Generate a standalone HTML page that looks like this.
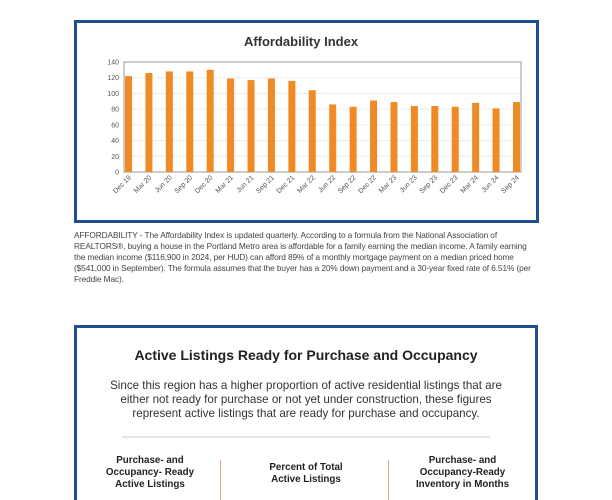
<!DOCTYPE html>
<html><head><meta charset="utf-8"><style>
html,body{margin:0;width:612px;height:500px;background:#fff;overflow:hidden;position:relative;font-family:"Liberation Sans",sans-serif;color:#333}
.box{position:absolute;border:3px solid #1f4f8f;box-sizing:border-box;background:#fff}
.cap{position:absolute;left:74px;top:230px;font-size:8.3px;line-height:10.9px;color:#444;white-space:nowrap;letter-spacing:-0.1px}
</style></head><body>
<div class="box" style="left:74px;top:20px;width:465px;height:203px"></div>
<svg id="chart" width="612" height="230" style="position:absolute;left:0;top:0">
<text x="301" y="46" text-anchor="middle" font-size="13" font-weight="bold" fill="#333">Affordability Index</text>
</svg>
<div class="cap">AFFORDABILITY - The Affordability Index is updated quarterly. According to a formula from the National Association of<br>REALTORS®, buying a house in the Portland Metro area is affordable for a family earning the median income. A family earning<br>the median income ($116,900 in 2024, per HUD) can afford 89% of a monthly mortgage payment on a median priced home<br>($541,000 in September). The formula assumes that the buyer has a 20% down payment and a 30-year fixed rate of 6.51% (per<br>Freddie Mac).</div>
<div class="box" style="left:74px;top:325px;width:464px;height:175px;border-bottom:none"></div>
<div style="position:absolute;left:74px;width:464px;top:347px;text-align:center;font-size:14px;font-weight:bold;color:#222">Active Listings Ready for Purchase and Occupancy</div>
<div style="position:absolute;left:90px;width:432px;top:379px;text-align:center;font-size:11.6px;line-height:14px;color:#333">Since this region has a higher proportion of active residential listings that are<br>either not ready for purchase or not yet under construction, these figures<br>represent active listings that are ready for purchase and occupancy.</div>
<div style="position:absolute;left:122px;width:368px;top:436px;height:2px;background:#e4e4e4"></div>
<div style="position:absolute;left:90px;width:120px;top:455px;text-align:center;font-size:9.8px;line-height:12px;color:#222;font-weight:bold">Purchase- and<br>Occupancy- Ready<br>Active Listings</div>
<div style="position:absolute;left:220px;top:460px;width:1px;height:40px;background:#e8a890"></div>
<div style="position:absolute;left:245px;width:122px;top:462px;text-align:center;font-size:9.8px;line-height:12px;color:#222;font-weight:bold">Percent of Total<br>Active Listings</div>
<div style="position:absolute;left:388px;top:460px;width:1px;height:40px;background:#e8a890"></div>
<div style="position:absolute;left:395px;width:135px;top:455px;text-align:center;font-size:9.8px;line-height:12px;color:#222;font-weight:bold">Purchase- and<br>Occupancy-Ready<br>Inventory in Months</div>
<script>
const categories=["Dec 19","Mar 20","Jun 20","Sep 20","Dec 20","Mar 21","Jun 21","Sep 21","Dec 21","Mar 22","Jun 22","Sep 22","Dec 22","Mar 23","Jun 23","Sep 23","Dec 23","Mar 24","Jun 24","Sep 24"];
const values=[122,126,128,128,130,119,117,119,116,104,86,83,91,89,84,84,83,88,81,89];
const yTicks=[0,20,40,60,80,100,120,140];
const svg=document.getElementById('chart');
const NS='http://www.w3.org/2000/svg';
const L=124,R=521,T=62,B=172,yMax=140,bw=7;
const y=v=>B-(v/yMax)*(B-T);
const step=(R-L-bw-2)/(categories.length-1);
const xc=i=>L+1+bw/2+i*step;
function mk(t,a){const e=document.createElementNS(NS,t);for(const k in a)e.setAttribute(k,a[k]);svg.appendChild(e);return e;}
yTicks.forEach(t=>{
  const g=mk('line',{x1:L,x2:R,y1:y(t),y2:y(t),stroke:'#ececec','stroke-width':1});
  
  
  const tx=mk('text',{x:L-5,y:y(t)+2.5,'text-anchor':'end','font-size':7,fill:'#555'});
  tx.textContent=t;
  
  
});
const fr=mk('rect',{x:L,y:T,width:R-L,height:B-T,fill:'none',stroke:'#999','stroke-width':1});


values.forEach((v,i)=>{
  const r=mk('rect',{x:xc(i)-bw/2,y:y(v),width:bw,height:B-y(v),fill:'#f08a24'});
  
  
  const t=mk('text',{x:0,y:0,'text-anchor':'end','font-size':7,fill:'#555',transform:`translate(${xc(i)+3},${B+6}) rotate(-45)`});
  t.textContent=categories[i];
  
  
});
</script>
</body></html>
